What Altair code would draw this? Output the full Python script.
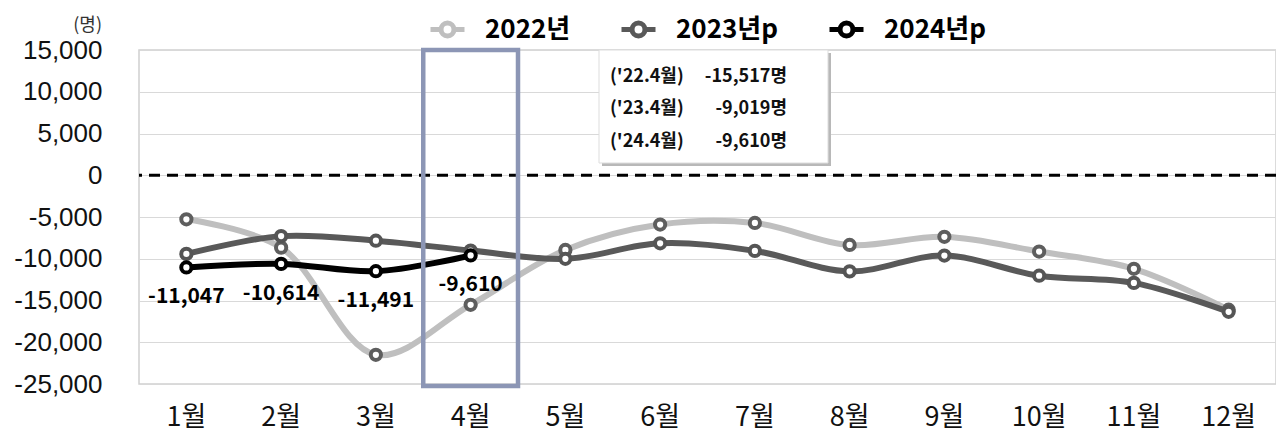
import altair as alt
import pandas as pd

months = [f"{i}월" for i in range(1, 13)]
series_names = ["2022년", "2023년p", "2024년p"]
short_years = ["22", "23", "24"]
v2022 = [-5270, -8670, -21500, -15517, -8950, -5900, -5710, -8350, -7370, -9140, -11200, -16100]
v2023 = [-9420, -7290, -7840, -9019, -10010, -8150, -9060, -11510, -9620, -12030, -12890, -16350]
v2024 = [-11047, -10614, -11491, -9610]
line_colors = ["#BFBFBF", "#595959", "#000000"]
marker_colors = ["#5E5E5E", "#555555", "#000000"]
y_ticks = list(range(-25000, 15001, 5000))
highlight_month = "4월"

rows = []
for name, vals in zip(series_names, [v2022, v2023, v2024]):
    for m, v in zip(months, vals):
        rows.append({"month": m, "series": name, "value": v})
df = pd.DataFrame(rows)
df24 = df[df["series"] == series_names[2]].copy()

FONT = "Noto Sans CJK KR"
NUM_FONT = "Liberation Sans, Noto Sans CJK KR"
MINUS_FIX = "replace(datum.label, '\u2212', '-')"

x_enc = alt.X(
    "month:N", sort=months,
    scale=alt.Scale(type="band", paddingInner=0, paddingOuter=0),
    axis=alt.Axis(title=None, domain=False, ticks=False, grid=False, labelAngle=0,
                  labelFont=FONT, labelFontSize=27, labelColor="#111111", labelPadding=20),
)
y_enc = alt.Y(
    "value:Q",
    scale=alt.Scale(domain=[-25000, 15000], nice=False, zero=False),
    axis=alt.Axis(title=None, values=y_ticks, domain=False, ticks=False, grid=True,
                  gridColor="#D9D9D9", gridWidth=1, labelFont=NUM_FONT, labelFontSize=26,
                  labelColor="#111111", labelPadding=37, labelExpr=MINUS_FIX),
)

LEGEND_PATH = ("M-1,0H-0.38M0.38,0H1M-0.38,0A0.38,0.38,0,1,1,0.38,0"
               "A0.38,0.38,0,1,1,-0.38,0Z")

zero_rule = alt.Chart(pd.DataFrame({"value": [0]})).mark_rule(
    color="black", strokeWidth=2.8, strokeDash=[11, 7]
).encode(y=alt.Y("value:Q"))

lines = alt.Chart(df).mark_line(strokeWidth=6, interpolate="catmull-rom").encode(
    x=x_enc, y=y_enc,
    color=alt.Color(
        "series:N",
        scale=alt.Scale(domain=series_names, range=line_colors),
        legend=alt.Legend(
            orient="none", legendX=289, legendY=-40, direction="horizontal", title=None,
            symbolType=LEGEND_PATH, symbolSize=1156, symbolStrokeWidth=5,
            symbolFillColor="white", symbolOpacity=1,
            labelFont=FONT, labelFontWeight="bold", labelFontSize=26, labelColor="black",
            labelOffset=18, columnPadding=40, labelLimit=300,
        ),
    ),
)

points = alt.Chart(df).mark_point(
    shape="circle", filled=True, fill="white", fillOpacity=1, opacity=1,
    strokeWidth=4, size=105,
).encode(
    x=alt.X("month:N", sort=months), y=alt.Y("value:Q"),
    stroke=alt.Stroke("series:N", scale=alt.Scale(domain=series_names, range=marker_colors),
                      legend=None),
)

labels = alt.Chart(df24).transform_calculate(
    lbl="replace(format(datum.value, ','), '\u2212', '-')"
).mark_text(font=FONT, fontWeight="bold", fontSize=21, dy=30, color="black").encode(
    x=alt.X("month:N", sort=months), y=alt.Y("value:Q"), text="lbl:N"
)

highlight = alt.Chart(pd.DataFrame({"month": [highlight_month]})).mark_rect(
    fill="transparent", stroke="#8C96B5", strokeWidth=4.5
).encode(x=alt.X("month:N", sort=months), y=alt.value(0), y2=alt.value(336))

shadow = alt.Chart(pd.DataFrame({"a": [0]})).mark_rect(fill="#B8B8B8").encode(
    x=alt.value(463), x2=alt.value(692), y=alt.value(3), y2=alt.value(116)
)
box = alt.Chart(pd.DataFrame({"a": [0]})).mark_rect(
    fill="white", stroke="#DDDDDD", strokeWidth=1
).encode(x=alt.value(460), x2=alt.value(689), y=alt.value(0), y2=alt.value(113))

ann_layers = []
ann_y = [27, 59, 92]
for yy, vals, py in zip(short_years, [v2022, v2023, v2024], ann_y):
    left_txt = f"('{yy}.4월)"
    right_txt = f"{vals[3]:,}명"
    ann_layers.append(
        alt.Chart(pd.DataFrame({"t": [left_txt]})).mark_text(
            font=FONT, fontWeight="bold", fontSize=18, align="left", baseline="middle",
            color="#111111"
        ).encode(text="t:N", x=alt.value(471), y=alt.value(py))
    )
    ann_layers.append(
        alt.Chart(pd.DataFrame({"t": [right_txt]})).mark_text(
            font=FONT, fontWeight="bold", fontSize=18, align="right", baseline="middle",
            color="#111111"
        ).encode(text="t:N", x=alt.value(648), y=alt.value(py))
    )

unit = alt.Chart(pd.DataFrame({"t": ["(명)"]})).mark_text(
    font=FONT, fontSize=18, align="right", baseline="middle", color="#333333"
).encode(text="t:N", x=alt.value(-37), y=alt.value(-24))

chart = alt.layer(
    zero_rule, lines, points, labels, highlight, shadow, box, *ann_layers, unit
).properties(
    width=1137, height=334,
    padding={"left": 131, "top": 42, "right": 0, "bottom": 55},
    autosize=alt.AutoSizeParams(type="none"),
).configure_view(stroke="#D0D0D0", strokeWidth=1.5)

chart.save("out.html", embed_options={"renderer": "svg", "actions": False})
